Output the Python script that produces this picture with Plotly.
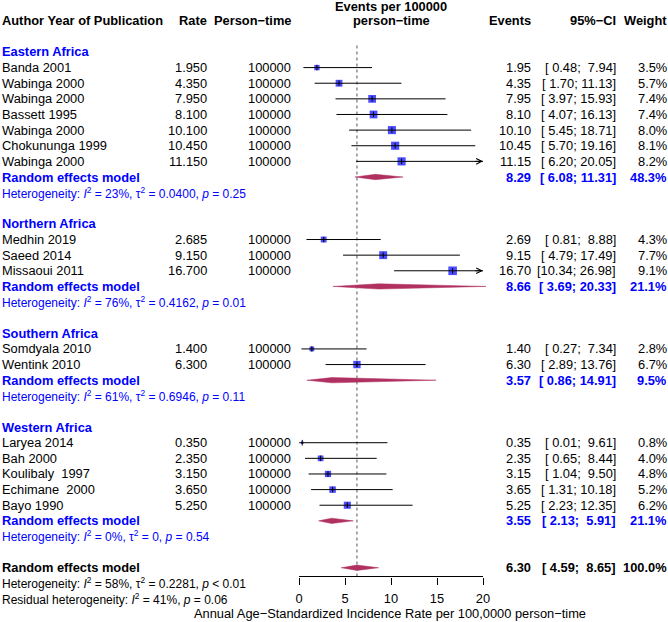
import plotly.graph_objects as go

# ---------------- data ----------------
group_names = ["Eastern Africa", "Northern Africa", "Southern Africa", "Western Africa"]
study_labels = ["Banda 2001", "Wabinga 2000", "Wabinga 2000", "Bassett 1995", "Wabinga 2000",
                "Chokununga 1999", "Wabinga 2000",
                "Medhin 2019", "Saeed 2014", "Missaoui 2011",
                "Somdyala 2010", "Wentink 2010",
                "Laryea 2014", "Bah 2000", "Koulibaly  1997", "Echimane  2000", "Bayo 1990"]
study_group = [0, 0, 0, 0, 0, 0, 0, 1, 1, 1, 2, 2, 3, 3, 3, 3, 3]
rates = [1.950, 4.350, 7.950, 8.100, 10.100, 10.450, 11.150,
         2.685, 9.150, 16.700,
         1.400, 6.300,
         0.350, 2.350, 3.150, 3.650, 5.250]
person_time = [100000] * 17
ci_lower = [0.48, 1.70, 3.97, 4.07, 5.45, 5.70, 6.20,
            0.81, 4.79, 10.34,
            0.27, 2.89,
            0.01, 0.65, 1.04, 1.31, 2.23]
ci_upper = [7.94, 11.13, 15.93, 16.13, 18.71, 19.16, 20.05,
            8.88, 17.49, 26.98,
            7.34, 13.76,
            9.61, 8.44, 9.50, 10.18, 12.35]
weights = [3.5, 5.7, 7.4, 7.4, 8.0, 8.1, 8.2,
           4.3, 7.7, 9.1,
           2.8, 6.7,
           0.8, 4.0, 4.8, 5.2, 6.2]

sub_est = [8.29, 8.66, 3.57, 3.55]
sub_lower = [6.08, 3.69, 0.86, 2.13]
sub_upper = [11.31, 20.33, 14.91, 5.91]
sub_weight = [48.3, 21.1, 9.5, 21.1]
sub_i2 = ["23%", "76%", "61%", "0%"]
sub_tau2 = ["0.0400", "0.4162", "0.6946", "0"]
sub_p = ["= 0.25", "= 0.01", "= 0.11", "= 0.54"]

overall_est = 6.30
overall_lower = 4.59
overall_upper = 8.65
overall_weight = 100.0
overall_i2 = "58%"
overall_tau2 = "0.2281"
overall_p = "< 0.01"
resid_i2 = "41%"
resid_p = "= 0.06"

x_ticks = [0, 5, 10, 15, 20]
axis_title = "Annual Age\u2212Standardized Incidence Rate per 100,0000 person\u2212time"

# ---------------- layout helpers ----------------
W, H = 668, 622
ROW0, ROWH = 20.7, 15.63
X0PX, PXU = 299.0, 9.2  # pixel of x=0, pixels per unit
FONT = "Liberation Sans, Arial, Helvetica, sans-serif"
FS = 12.85
FSH = 12.0
BLUE = "#0000FF"
DIAM = "#B03060"
NB = "\u00a0"


def px(p):
    return p / W


def ci_text(lo, hi):
    return ("[%5.2f; %5.2f]" % (lo, hi)).replace(" ", NB)


annotations = []


def txt(text, xpx, row, anchor="left", color="black", bold=False, size=FS):
    if bold:
        text = "<b>" + text + "</b>"
    annotations.append(dict(text=text, x=px(xpx), xref="paper", y=row, yref="y",
                            xanchor=anchor, yanchor="middle", showarrow=False,
                            borderpad=0, font=dict(family=FONT, size=size, color=color)))


COL_LABEL, COL_RATE, COL_PT, COL_EV, COL_CI, COL_W = 1, 208, 291.5, 531.5, 617, 667.5
COL_MID = X0PX + 10 * PXU

# headers
txt("Events per 100000", COL_MID, -0.93, "center", bold=True)
txt("person\u2212time", COL_MID, 0, "center", bold=True)
txt("Author Year of Publication", COL_LABEL, 0, bold=True)
txt("Rate", COL_RATE, 0, "right", bold=True)
txt("Person\u2212time", COL_PT, 0, "right", bold=True)
txt("Events", COL_EV, 0, "right", bold=True)
txt("95%\u2212CI", COL_CI, 0, "right", bold=True)
txt("Weight", COL_W, 0, "right", bold=True)

study_rows = []
sub_rows = []
row = 2
for g, gname in enumerate(group_names):
    txt(gname, COL_LABEL, row, color=BLUE, bold=True)
    row += 1
    for i in range(len(study_labels)):
        if study_group[i] != g:
            continue
        study_rows.append(row)
        txt(study_labels[i].replace(" ", NB), COL_LABEL, row)
        txt("%.3f" % rates[i], COL_RATE, row, "right")
        txt("%d" % person_time[i], COL_PT, row, "right")
        txt("%.2f" % rates[i], COL_EV, row, "right")
        txt(ci_text(ci_lower[i], ci_upper[i]), COL_CI, row, "right")
        txt("%.1f%%" % weights[i], COL_W, row, "right")
        row += 1
    sub_rows.append(row)
    txt("Random effects model", COL_LABEL, row, color=BLUE, bold=True)
    txt("%.2f" % sub_est[g], COL_EV, row, "right", color=BLUE, bold=True)
    txt(ci_text(sub_lower[g], sub_upper[g]), COL_CI, row, "right", color=BLUE, bold=True)
    txt("%.1f%%" % sub_weight[g], COL_W, row, "right", color=BLUE, bold=True)
    row += 1
    txt("Heterogeneity: <i>I</i><sup>2</sup> = %s, \u03c4<sup>2</sup> = %s, <i>p</i> %s"
        % (sub_i2[g], sub_tau2[g], sub_p[g]), COL_LABEL, row, color=BLUE, size=FSH)
    row += 2

overall_row = row
txt("Random effects model", COL_LABEL, overall_row, bold=True)
txt("%.2f" % overall_est, COL_EV, overall_row, "right", bold=True)
txt(ci_text(overall_lower, overall_upper), COL_CI, overall_row, "right", bold=True)
txt("%.1f%%" % overall_weight, COL_W, overall_row, "right", bold=True)
txt("Heterogeneity: <i>I</i><sup>2</sup> = %s, \u03c4<sup>2</sup> = %s, <i>p</i> %s"
    % (overall_i2, overall_tau2, overall_p), COL_LABEL, overall_row + 1, size=FSH)
txt("Residual heterogeneity: <i>I</i><sup>2</sup> = %s, <i>p</i> %s" % (resid_i2, resid_p),
    COL_LABEL, overall_row + 2, size=FSH)

# ---------------- marks ----------------
XMAX = 20
fig = go.Figure()

# squares
fig.add_trace(go.Scatter(
    x=rates, y=study_rows, mode="markers", hoverinfo="skip",
    marker=dict(symbol="square", color=BLUE, size=[2.85 * w ** 0.5 for w in weights],
                line=dict(width=0))))

# CI lines
lx, ly = [], []
for i in range(len(rates)):
    lx += [ci_lower[i], min(ci_upper[i], XMAX), None]
    ly += [study_rows[i], study_rows[i], None]
    if ci_upper[i] > XMAX:
        annotations.append(dict(x=XMAX, y=study_rows[i], xref="x", yref="y",
                                ax=XMAX - 1, ay=study_rows[i], axref="x", ayref="y",
                                text="", showarrow=True, arrowhead=5, arrowsize=1.1,
                                arrowwidth=1, arrowcolor="black"))
fig.add_trace(go.Scatter(x=lx, y=ly, mode="lines", hoverinfo="skip",
                         line=dict(color="black", width=1)))

# centre ticks
fig.add_trace(go.Scatter(
    x=rates, y=study_rows, mode="markers", hoverinfo="skip",
    marker=dict(symbol="line-ns-open", size=4, color="black", line=dict(color="black", width=1))))

# diamonds
dh = 0.17
dx, dy = [], []
for g in range(len(group_names)):
    r = sub_rows[g]
    dx += [sub_lower[g], sub_est[g], sub_upper[g], sub_est[g], sub_lower[g], None]
    dy += [r, r - dh, r, r + dh, r, None]
dx += [overall_lower, overall_est, overall_upper, overall_est, overall_lower]
dy += [overall_row, overall_row - dh, overall_row, overall_row + dh, overall_row]
fig.add_trace(go.Scatter(x=dx, y=dy, mode="lines", fill="toself", fillcolor=DIAM,
                         hoverinfo="skip", line=dict(color=DIAM, width=0.5)))

# ---------------- axes ----------------
AXIS_PX = 576.5
axis_pos = 1 - AXIS_PX / H
ylo = -ROW0 / ROWH
yhi = (H - ROW0) / ROWH
dom0, dom1 = 290, 490
xr0 = (dom0 - X0PX) / PXU
xr1 = (dom1 - X0PX) / PXU

shapes = [
    dict(type="line", xref="x", yref="paper", x0=overall_est, x1=overall_est,
         y0=axis_pos, y1=1 - 44 / H, line=dict(color="#555555", width=1, dash="dot"), layer="below"),
    dict(type="line", xref="x", yref="paper", x0=x_ticks[0], x1=x_ticks[-1],
         y0=axis_pos, y1=axis_pos, line=dict(color="black", width=1)),
]

fig.update_layout(
    width=W, height=H, margin=dict(l=0, r=0, t=0, b=0),
    paper_bgcolor="white", plot_bgcolor="white", showlegend=False,
    font=dict(family=FONT, size=FS, color="black"),
    annotations=annotations, shapes=shapes,
    xaxis=dict(domain=[px(dom0), px(dom1)], range=[xr0, xr1], anchor="free", position=axis_pos,
               showgrid=False, zeroline=False, showline=False,
               tickmode="array", tickvals=x_ticks, ticktext=[str(t) for t in x_ticks],
               ticks="outside", ticklen=7, tickwidth=1, tickcolor="black",
               ticklabelstandoff=3,
               tickfont=dict(family=FONT, size=FS, color="black"),
               title=dict(text=axis_title, standoff=3, font=dict(family=FONT, size=FS, color="black")),
               fixedrange=True),
    yaxis=dict(domain=[0, 1], range=[yhi, ylo], visible=False, fixedrange=True),
)

fig.write_html("out.html", config={"displayModeBar": False},
               post_script="document.body.style.margin='0px';document.body.style.overflow='hidden';")
